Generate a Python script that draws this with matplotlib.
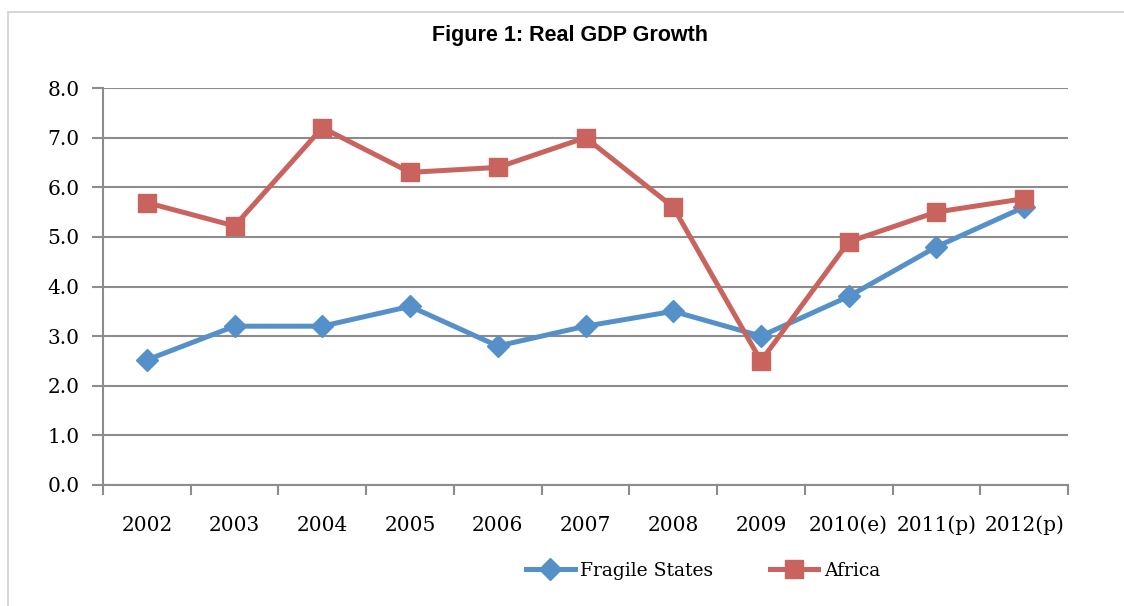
import matplotlib
matplotlib.use("Agg")
import matplotlib.pyplot as plt
from matplotlib.patches import Rectangle

years = ["2002", "2003", "2004", "2005", "2006", "2007", "2008", "2009",
         "2010(e)", "2011(p)", "2012(p)"]
fragile_states = [2.52, 3.2, 3.2, 3.6, 2.8, 3.2, 3.5, 3.0, 3.8, 4.8, 5.6]
africa = [5.69, 5.22, 7.2, 6.3, 6.4, 7.0, 5.6, 2.5, 4.9, 5.5, 5.77]
y_ticks = [0, 1, 2, 3, 4, 5, 6, 7, 8]

W, H = 1124, 606
fig = plt.figure(figsize=(W / 100, H / 100), dpi=100)

# light frame around the chart
fig.patches.append(Rectangle((8 / W, -0.01), 1.2, 1 - 12 / H + 0.01,
                             transform=fig.transFigure, fill=False,
                             edgecolor="#cfcfcf", linewidth=1.2))

ax = fig.add_axes([103 / W, 1 - 485 / H, (1068 - 103) / W, (485 - 88) / H])

x = list(range(len(years)))
blue = "#5591C8"
red = "#C8645D"
ax.plot(x, fragile_states, color=blue, linewidth=3.6, marker="D",
        markersize=11, label="Fragile States", zorder=3)
ax.plot(x, africa, color=red, linewidth=3.6, marker="s",
        markersize=13, label="Africa", zorder=4)

ax.set_xlim(-0.5, len(years) - 0.5)
ax.set_ylim(0, 8)
ax.set_yticks(y_ticks)
ax.set_yticklabels([f"{v:.1f}" for v in y_ticks])
ax.set_xticks(x)
ax.set_xticklabels(years)
ax.set_xticks([i - 0.5 for i in range(len(years) + 1)], minor=True)

grid_col = "#8c8c8c"
ax.grid(axis="y", color=grid_col, linewidth=1.5, zorder=1)
ax.set_axisbelow(True)
for s in ["top", "right"]:
    ax.spines[s].set_visible(False)
for s in ["left", "bottom"]:
    ax.spines[s].set_color(grid_col)
    ax.spines[s].set_linewidth(1.5)

ax.tick_params(axis="x", which="major", length=0, pad=22)
ax.tick_params(axis="x", which="minor", length=7, width=1.5, color=grid_col)
ax.tick_params(axis="y", length=8, width=1.5, color=grid_col, pad=9)
for lab in ax.get_xticklabels() + ax.get_yticklabels():
    lab.set_fontfamily("DejaVu Serif")
    lab.set_fontsize(14.5)

fig.text(570 / W, 1 - 36 / H, "Figure 1: Real GDP Growth",
         ha="center", va="center", fontsize=15.5, fontweight="bold",
         family="Liberation Sans")

fig.legend(loc="center", bbox_to_anchor=(703 / W, 1 - 571 / H), ncol=2,
           frameon=False, prop={"family": "DejaVu Serif", "size": 13.5},
           handlelength=2.6, columnspacing=3.0, handletextpad=0.3)

fig.savefig("out.png", dpi=100)
